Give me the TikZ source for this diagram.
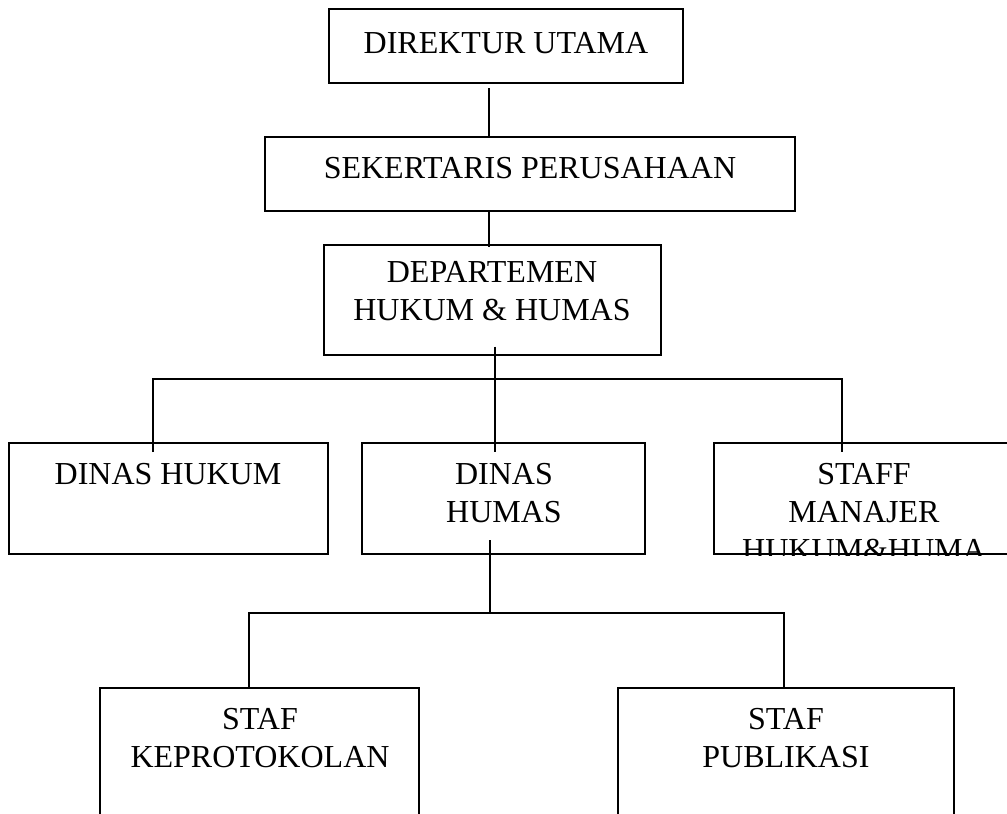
\documentclass[tikz,border=0pt]{standalone}
\usepackage{fontspec}
\setmainfont{Liberation Serif}
\usetikzlibrary{fit}
\begin{document}
\begin{tikzpicture}[x=0.75pt,y=-0.75pt,
  box/.style={draw, line width=1.5pt, inner sep=0pt},
  lbl/.style={font=\fontsize{24}{28.5}\selectfont, align=center, inner sep=0pt, anchor=base},
  con/.style={line width=1.5pt}]
\useasboundingbox (0,0) rectangle (1007,814);
\clip (0,0) rectangle (1007,814);
% boxes
\node[box, fit={(329,9) (683,83)}] (dir) {};
\node[box, fit={(265,137) (795,211)}] (sek) {};
\node[box, fit={(324,245) (661,355)}] (dep) {};
\node[box, fit={(9,443) (328,554)}] (dhuk) {};
\node[box, fit={(362,443) (645,554)}] (dhum) {};
\node[box, fit={(714,443) (1016,554)}] (smj) {};
\node[box, fit={(100,688) (419,830)}] (skp) {};
\node[box, fit={(618,688) (954,830)}] (spb) {};
% labels (base anchor = baseline of the last line)
\node[lbl] (tdir) at (506,53) {DIREKTUR UTAMA};
\node[lbl] (tsek) at (530,178.5) {SEKERTARIS PERUSAHAAN};
\node[lbl] (tdep) at (492,320) {DEPARTEMEN\\HUKUM \& HUMAS};
\node[lbl] (tdhuk) at (168,484) {DINAS HUKUM};
\node[lbl] (tdhum) at (504,522) {DINAS\\HUMAS};
\begin{scope}
  \clip (smj.north west) rectangle (smj.south east);
  \node[lbl] (tsmj) at (864,560) {STAFF\\MANAJER\\HUKUM\&HUMA};
\end{scope}
\node[lbl] (tskp) at (260,767) {STAF\\KEPROTOKOLAN};
\node[lbl] (tspb) at (786,767) {STAF\\PUBLIKASI};
% connector columns and buses
\coordinate (v1) at (489,0);
\coordinate (v2) at (495,0);
\coordinate (v3) at (153,0);
\coordinate (v4) at (842,0);
\coordinate (v5) at (490,0);
\coordinate (v6) at (249,0);
\coordinate (v7) at (784,0);
\coordinate (bus1) at (0,379);
\coordinate (bus2) at (0,613);
% connectors
\draw[con] ([yshift=-3pt]dir.south -| v1) -- (sek.north -| v1);
\draw[con] ([yshift=1.5pt]sek.south -| v1) -- ([yshift=-2pt]dep.north -| v1);
\draw[con] ([yshift=7pt]dep.south -| v2) -- ([yshift=-7.5pt]dhum.north -| v2);
\draw[con] ([yshift=-7.5pt]dhuk.north -| v3) |- (bus1 -| v4) -- ([yshift=-7.5pt]smj.north -| v4);
\draw[con] ([yshift=11pt]dhum.south -| v5) -- (bus2 -| v5);
\draw[con] (skp.north -| v6) |- (bus2 -| v7) -- (spb.north -| v7);
\end{tikzpicture}
\end{document}
